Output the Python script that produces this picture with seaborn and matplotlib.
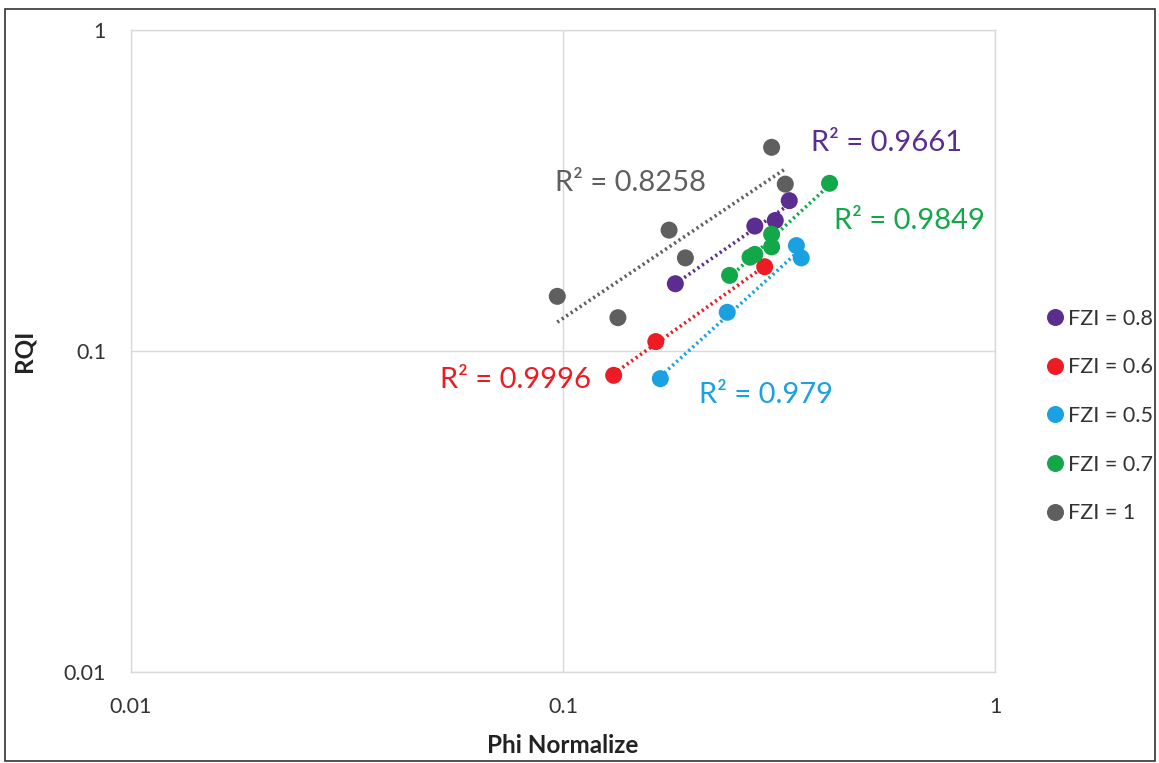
import numpy as np
import pandas as pd
import matplotlib
matplotlib.use("Agg")
import matplotlib.pyplot as plt
import seaborn as sns
from matplotlib.patches import Rectangle

# ---- data ----
series = ["FZI = 0.8", "FZI = 0.6", "FZI = 0.5", "FZI = 0.7", "FZI = 1"]
colors = ["#5b2d90", "#ed1c24", "#1ba1e2", "#12a84a", "#5f5f5f"]

phi_08 = [0.334, 0.310, 0.278, 0.182]
rqi_08 = [0.294, 0.255, 0.245, 0.162]

phi_06 = [0.293, 0.164, 0.131]
rqi_06 = [0.183, 0.107, 0.084]

phi_05 = [0.347, 0.356, 0.240, 0.168]
rqi_05 = [0.213, 0.195, 0.132, 0.082]

phi_07 = [0.414, 0.304, 0.304, 0.278, 0.271, 0.243]
rqi_07 = [0.333, 0.231, 0.211, 0.200, 0.196, 0.172]

phi_10 = [0.304, 0.327, 0.176, 0.192, 0.097, 0.134]
rqi_10 = [0.431, 0.331, 0.238, 0.195, 0.148, 0.127]

r2_labels = ["R² = 0.9661", "R² = 0.9996", "R² = 0.979", "R² = 0.9849", "R² = 0.8258"]
r2_pos = [(0.376, 0.445), (0.052, 0.081), (0.207, 0.073), (0.425, 0.254), (0.096, 0.334)]

x_ticks = [0.01, 0.1, 1]
x_ticklabels = ["0.01", "0.1", "1"]
y_ticks = [0.01, 0.1, 1]
y_ticklabels = ["0.01", "0.1", "1"]

phis = [phi_08, phi_06, phi_05, phi_07, phi_10]
rqis = [rqi_08, rqi_06, rqi_05, rqi_07, rqi_10]

df = pd.concat([pd.DataFrame({"phi": p, "rqi": r, "series": s})
                for p, r, s in zip(phis, rqis, series)], ignore_index=True)

sns.set_theme(style="white")
plt.rcParams["font.family"] = ["Lato", "DejaVu Sans"]

fig = plt.figure(figsize=(11.59, 7.63), dpi=100)
ax = fig.add_axes([131/1159, 1-672/763, (995-131)/1159, (672-30)/763])

# trendlines (power fits = linear in log-log)
for p, r, c in zip(phis, rqis, colors):
    lp, lr = np.log10(p), np.log10(r)
    m, b = np.polyfit(lp, lr, 1)
    xs = np.array([min(p), max(p)])
    ys = 10 ** (m * np.log10(xs) + b)
    ax.plot(xs, ys, linestyle=(0, (0.6, 0.9)), color=c, lw=2.6, zorder=2)

sns.scatterplot(data=df, x="phi", y="rqi", hue="series", hue_order=series,
                palette=colors, s=150, edgecolor="none", ax=ax, zorder=3,
                legend=True)

ax.set_xscale("log")
ax.set_yscale("log")
ax.set_xlim(0.01, 1)
ax.set_ylim(0.01, 1)
ax.set_xticks(x_ticks)
ax.set_xticklabels(x_ticklabels)
ax.set_yticks(y_ticks)
ax.set_yticklabels(y_ticklabels)
ax.minorticks_off()
ax.tick_params(axis="both", length=0, labelsize=15.5, colors="#333333", pad=18)
ax.grid(True, which="major", color="#d9d9d9", lw=1)
for sp in ax.spines.values():
    sp.set_color("#d9d9d9")
    sp.set_linewidth(1)

ax.set_xlabel("Phi Normalize", fontsize=17.5, fontweight="bold", color="#222222", labelpad=12)
ax.set_ylabel("RQI", fontsize=17.5, fontweight="bold", color="#222222", labelpad=20)

for lab, (tx, ty), c in zip(r2_labels, r2_pos, colors):
    ax.text(tx, ty, lab, color=c, fontsize=21, ha="left", va="center", zorder=4)

handles, labels = ax.get_legend_handles_labels()
ax.legend_.remove()
for h in handles:
    try:
        h.set_sizes([70])
    except Exception:
        pass
leg = fig.legend(handles, labels, loc="center left",
                 bbox_to_anchor=(1046/1159, 1-416/763), frameon=False,
                 fontsize=15.5, labelspacing=1.33, handletextpad=0.2,
                 handlelength=0.8, borderpad=0, borderaxespad=0,
                 markerscale=1.0)
for t in leg.get_texts():
    t.set_color("#333333")

fig.patches.append(Rectangle((5/1159, 2/763), 1150/1159, 752/763,
                             transform=fig.transFigure, fill=False,
                             edgecolor="#333333", lw=1.2))

fig.savefig("out.png", dpi=100)
